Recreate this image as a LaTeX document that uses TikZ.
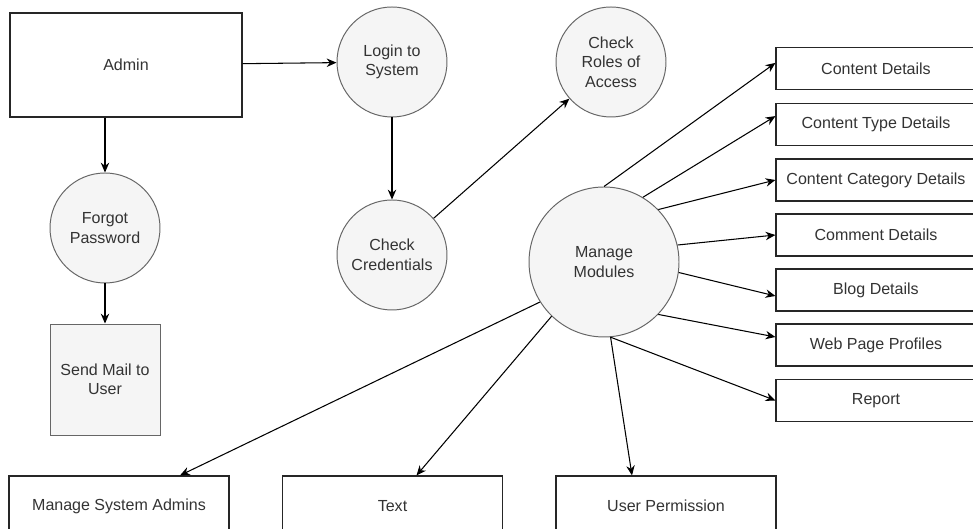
\documentclass[tikz,border=0pt]{standalone}
\usepackage{fontspec}
\setmainfont{Liberation Sans}
\usepackage{tikz}
\usetikzlibrary{arrows.meta}
\definecolor{procfill}{HTML}{F5F5F5}
\definecolor{procline}{HTML}{666666}
\definecolor{txtgray}{HTML}{333333}

\begin{document}
\begin{tikzpicture}[
	font=\fontsize{11.4}{13.9}\selectfont, text=txtgray,
	process/.style={shape=circle,draw=procline,fill=procfill,line width=0.7pt,minimum size=2.75cm,inner sep=0pt,align=center},
	entity/.style={shape=rectangle,draw=black!85,fill=white,line width=0.8pt,inner sep=0pt,align=center},
	module/.style={entity,minimum width=5cm,minimum height=1.05cm},
	sink/.style={entity,minimum width=5.5cm,minimum height=1.5cm},
	flow/.style={->,>={Stealth[length=7pt,width=6pt]},line width=0.75pt}
	]
	\useasboundingbox (0,0) rectangle (24.325,13.225);

        \node[entity,minimum width=5.8cm,minimum height=2.6cm] (admin) at (3.15, 11.6)     {Admin};
        \node[process] (login) at (9.8, 11.675)     {Login to\\System};
        \node[process] (forgot) at (2.625, 7.525)     {Forgot\\Password};
        \node[shape=rectangle,draw=procline,fill=procfill,line width=0.7pt,minimum width=2.75cm,minimum height=2.775cm,align=center] (mail) at (2.625, 3.7375)     {Send Mail to\\User};
        \node[process] (cred) at (9.8, 6.85)     {Check\\Credentials};
        \node[process] (roles) at (15.275, 11.675)     {Check\\Roles of\\Access};
        \node[process,minimum size=3.75cm] (manage) at (15.1, 6.675)     {Manage\\Modules};

        \node[module] (cdet) at (21.9, 11.5125)     {Content Details};
        \node[module] (ctype) at (21.9, 10.1125)     {Content Type Details};
        \node[module] (ccat) at (21.9, 8.725)     {Content Category Details};
        \node[module] (comment) at (21.9, 7.35)     {Comment Details};
        \node[module] (blog) at (21.9, 5.975)     {Blog Details};
        \node[module] (web) at (21.9, 4.6)     {Web Page Profiles};
        \node[module] (report) at (21.9, 3.2125)     {Report};

        \node[sink] (sysadm) at (2.975, 0.575)     {Manage System Admins};
        \node[sink] (text) at (9.8125, 0.575)     {Text};
        \node[sink] (perm) at (16.65, 0.575)     {User Permission};

	\path[flow] (admin) edge (login);
	\path[flow] (forgot |- admin.south) edge (forgot);
	\path[flow] (forgot) edge (mail);
	\path[flow] (login) edge (cred);
	\path[flow] (cred) edge (roles);

	\path[flow] (manage.90) edge ([yshift=0.14cm]cdet.west);
	\path[flow] (manage.59) edge ([yshift=0.21cm]ctype.west);
	\path[flow] (manage.44) edge (ccat.west);
	\path[flow] (manage.13) edge (comment.west);
	\path[flow] (manage.-8) edge ([yshift=-0.15cm]blog.west);
	\path[flow] (manage.-44) edge ([yshift=0.2cm]web.west);
	\path[flow] (manage.-85) edge (report.west);

	\path[flow] (manage.-148) edge ([xshift=1.525cm]sysadm.north);
	\path[flow] (manage.-134) edge ([xshift=0.6cm]text.north);
	\path[flow] (manage.-85) edge ([xshift=-0.85cm]perm.north);
\end{tikzpicture}
\end{document}
